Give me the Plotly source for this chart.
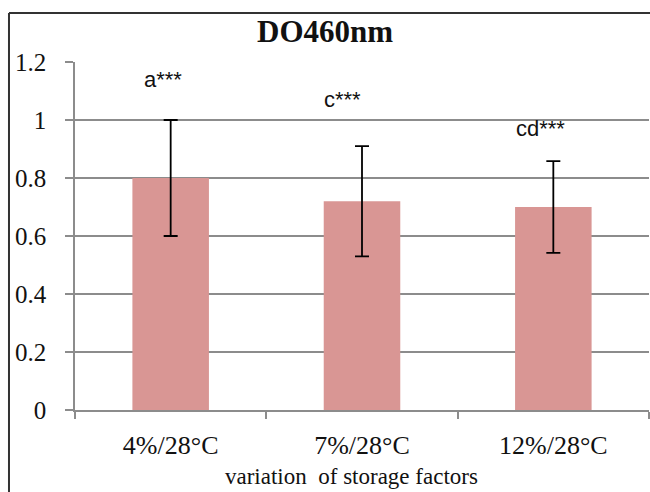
import plotly.graph_objects as go

categories = ["4%/28°C", "7%/28°C", "12%/28°C"]
values = [0.80, 0.72, 0.70]
errors = [0.20, 0.19, 0.158]
letters = ["a***", "c***", "cd***"]
letter_y = [1.14, 1.07, 0.97]
y_ticks = [0, 0.2, 0.4, 0.6, 0.8, 1, 1.2]
y_labels = ["0", "0.2", "0.4", "0.6", "0.8", "1", "1.2"]

serif = "Liberation Serif"
sans = "Liberation Sans"
grid = "#8c8c8c"

fig = go.Figure()
fig.add_trace(go.Bar(
    x=categories, y=values, width=0.4,
    marker=dict(color="#D99694", line=dict(width=0)),
    error_y=dict(type="data", array=errors, visible=True, color="black",
                 thickness=1.8, width=7),
    hoverinfo="skip",
))

label_shift = [-8, -20, -13]
for c, t, yv, dx in zip(categories, letters, letter_y, label_shift):
    fig.add_annotation(x=c, y=yv, text=t, showarrow=False, xanchor="center",
                       xshift=dx, font=dict(family=sans, size=22, color="#111"))

fig.add_annotation(xref="paper", yref="paper", x=0.482, y=(410 - 491) / 348,
                   xanchor="center", yanchor="bottom",
                   text="variation&nbsp; of storage factors", showarrow=False,
                   font=dict(family=serif, size=23, color="#111"))

fig.add_annotation(xref="paper", yref="paper", x=0.4355, y=(410 - 32) / 348,
                   yanchor="middle", xanchor="center",
                   text="DO460nm", showarrow=False,
                   font=dict(family=serif, size=31, color="#111", weight="bold"))

# chart border
fig.add_shape(type="line", xref="paper", yref="paper", x0=-0.115, x1=-0.115,
              y0=1.141, y1=-0.5, line=dict(color="#333", width=2))
fig.add_shape(type="line", xref="paper", yref="paper", x0=-0.115, x1=1.2,
              y0=1.141, y1=1.141, line=dict(color="#333", width=2))

fig.update_layout(
    width=650, height=492,
    margin=dict(l=75, r=1, t=62, b=82),
    paper_bgcolor="white", plot_bgcolor="white",
    showlegend=False,
    xaxis=dict(type="category", tickson="boundaries", ticks="outside",
               ticklen=7, tickcolor=grid, tickwidth=1.5, automargin=False,
               showline=True, linecolor=grid, linewidth=1.5,
               showgrid=False, ticklabelstandoff=11,
               tickfont=dict(family=serif, size=26, color="#111")),
    yaxis=dict(range=[0, 1.2], tickvals=y_ticks, ticktext=y_labels,
               ticks="outside", ticklen=8, tickcolor=grid, tickwidth=1.5,
               showgrid=True, gridcolor=grid, gridwidth=1.5, automargin=False,
               showline=True, linecolor=grid, linewidth=1.5,
               zeroline=False, ticklabelstandoff=14,
               tickfont=dict(family=serif, size=25, color="#111")),
)

fig.write_html("out.html", config={"displayModeBar": False},
               post_script="document.body.style.margin='0';document.body.style.overflow='hidden';")
